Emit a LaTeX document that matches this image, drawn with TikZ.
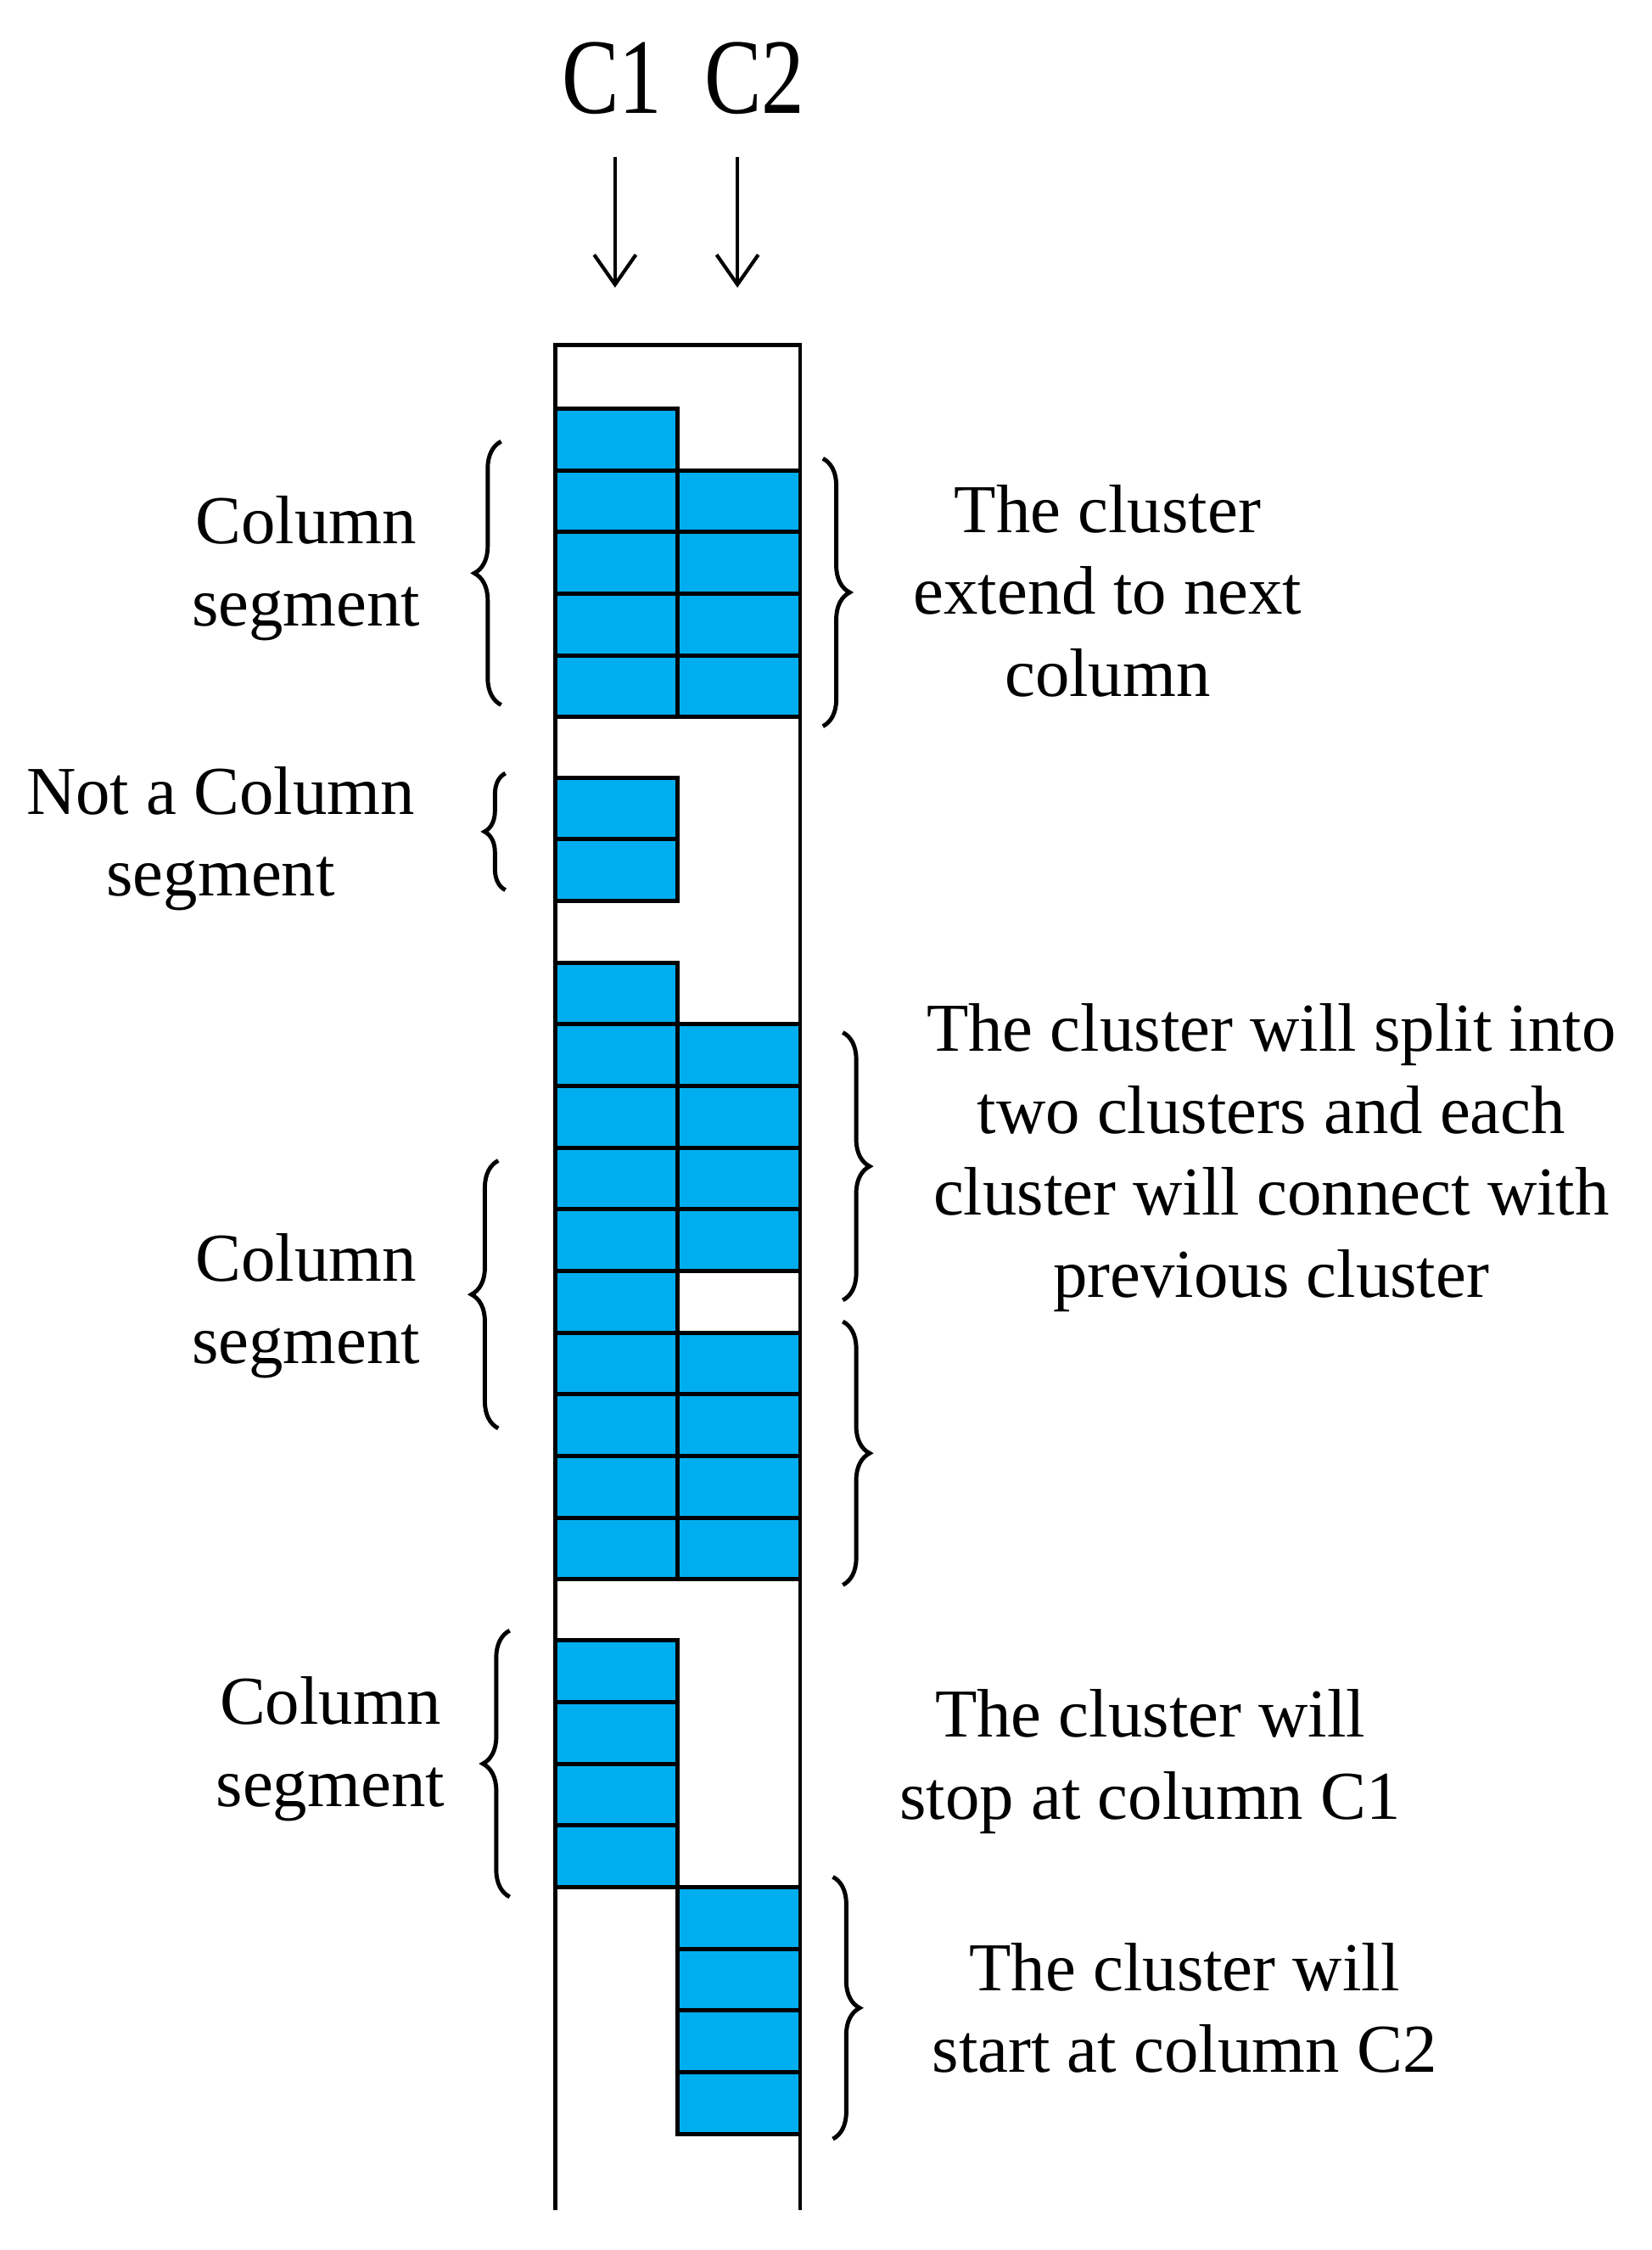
\documentclass[tikz,border=0pt]{standalone}
\usepackage{fontspec}
\setmainfont{Liberation Serif}
\usetikzlibrary{decorations.pathreplacing,arrows.meta}
\definecolor{cellblue}{HTML}{00AEEF}
\begin{document}
\begin{tikzpicture}[x=0.01678cm,y=-0.01678cm,
  cell/.style={fill=cellblue,draw=black,line width=1.4pt},
  frame/.style={draw=black,line width=1.4pt},
  br/.style={decorate,decoration={brace,amplitude=9pt},line width=1.4pt},
  lbl/.style={align=center,font=\fontsize{23}{27.5}\selectfont,inner sep=0pt},
  hdr/.style={font=\fontsize{36}{40}\selectfont,inner sep=0pt},
  arr/.style={-{Straight Barb[length=10pt,width=14pt]},line width=1.2pt}]
\useasboundingbox (0,0) rectangle (1160,1580);
\def\h{43.3}
% frame
\draw[frame] (390,1552) -- (390,242) -- (562,242) -- (562,1552);
\newcommand\mycells[3]{\foreach \i in {1,...,#3}{\draw[cell] (#1,{#2+(\i-1)*\h}) rectangle ++(86,\h);}}
\mycells{390}{287}{5}
\mycells{476}{330.3}{4}
\mycells{390}{546}{2}
\mycells{390}{676}{10}
\mycells{476}{719.3}{4}
\mycells{476}{935.8}{4}
\mycells{390}{1152}{4}
\mycells{476}{1325.2}{4}
% headers
\node[hdr] (c1) at (430,55) {\scalebox{0.8}[1]{C1}};
\node[hdr] (c2) at (530,55) {\scalebox{0.8}[1]{C2}};
\coordinate (a1s) at (432,110); \coordinate (a1e) at (432,202);
\coordinate (a2s) at (518,110); \coordinate (a2e) at (518,202);
\draw[arr] (a1s) -- (a1e);
\draw[arr] (a2s) -- (a2e);
% braces
\draw[br] (352,495) -- (352,310);
\draw[br] (578,322) -- (578,510);
\draw[br,decoration={brace,amplitude=7pt}] (355,625) -- (355,543);
\draw[br] (350,1003) -- (350,815);
\draw[br] (592,725) -- (592,913);
\draw[br] (592,928) -- (592,1113);
\draw[br] (358,1332) -- (358,1145);
\draw[br] (585,1318) -- (585,1502);
% labels
\node[lbl] (l1) at (215,399) {Column\\segment};
\node[lbl] (l2) at (155,589) {Not a Column\\segment};
\node[lbl] (l3) at (215,917) {Column\\segment};
\node[lbl] (l4) at (232,1228) {Column\\segment};
\node[lbl] (r1) at (778,415) {The cluster\\extend to next\\column};
\node[lbl] (r2) at (893,813) {The cluster will split into\\two clusters and each\\cluster will connect with\\previous cluster};
\node[lbl] (r3) at (808,1237) {The cluster will\\stop at column C1};
\node[lbl] (r4) at (832,1410) {The cluster will\\start at column C2};
\end{tikzpicture}
\end{document}
